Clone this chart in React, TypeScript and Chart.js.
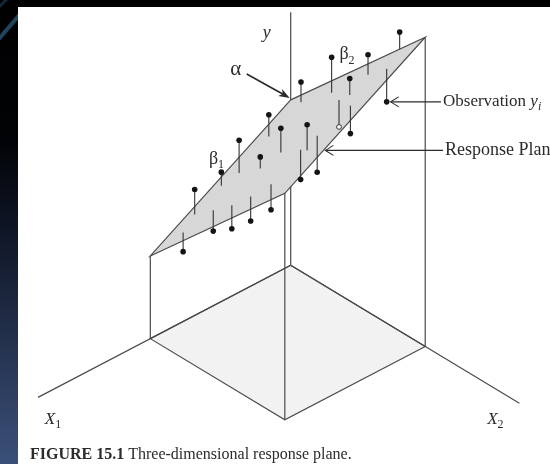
import React, { useEffect, useRef } from "react";
import { Chart, registerables } from "chart.js";

Chart.register(...registerables);

// ---- observations (X1, X2, y) ----
const obsX1 = [0.0, 1.2, 1.3, 0.8, 2.5, 3.7, 1.5, 5.3, 6.4, 5.3, 6.0, 2.9, 5.4, 6.0, 5.9, 7.7, 9.1, 8.2, 8.6, 8.6, 8.3];
const obsX2 = [8.1, 7.0, 4.4, 1.6, 7.0, 8.3, 8.7, 4.8, 7.9, 7.5, 7.0, 1.4, 1.8, 4.0, 1.0, 0.9, 1.5, 2.8, 4.6, 6.0, 7.2];
const obsY = [90.4, 83.5, 76.6, 61.1, 79.2, 68.4, 74.1, 65.0, 76.1, 58.3, 56.4, 55.4, 54.2, 55.9, 43.7, 42.2, 28.0, 35.4, 41.4, 47.2, 52.9];
// observation lying under the plane, drawn hollow
const hiddenX1 = [2.5];
const hiddenX2 = [6.2];
const hiddenY = [62.6];
// observation singled out by the "Observation y_i" callout
const CALLOUT_OBS = 6;

// response plane  y = α + β1·X1 + β2·X2
const ALPHA = 50;
const BETA1 = -2.5;
const BETA2 = 4.35;
const X1_MAX = 10;
const X2_MAX = 10;
// axis lengths
const X1_AXIS_LEN = 18;
const X2_AXIS_LEN = 17;
const Y_AXIS_LEN = 76.5;
// point on the plane's front edge that the "Response Plane" callout points at
const PLANE_CALLOUT_X1 = 7.25;

// canvas and oblique view
const W = 550;
const H = 464;
const VIEW = { ox: 291, oy: 266, x1dx: -14.3, x1dy: 7.5, x2dx: 13.7, x2dy: 8.3, yk: 3.38 };

type P = { x: number; y: number };
const GAP: P = { x: NaN, y: NaN };

const planeAt = (x1: number, x2: number) => ALPHA + BETA1 * x1 + BETA2 * x2;
const proj = (x1: number, x2: number, y: number): P => ({
  x: VIEW.ox + x1 * VIEW.x1dx + x2 * VIEW.x2dx,
  y: VIEW.oy + x1 * VIEW.x1dy + x2 * VIEW.x2dy - y * VIEW.yk,
});
const segments = (pairs: [P, P][]) => pairs.flatMap(([a, b]) => [a, b, GAP]);

const SERIF = '"Liberation Serif", "Times New Roman", "DejaVu Serif", serif';
const INK = "#2b2b2b";
const LINE = "#4a4a4a";

// floor square, axes and vertical risers
const O0 = proj(0, 0, 0);
const floorPoly = [O0, proj(X1_MAX, 0, 0), proj(X1_MAX, X2_MAX, 0), proj(0, X2_MAX, 0), O0];
const axisLines = segments([
  [O0, proj(X1_AXIS_LEN, 0, 0)],
  [O0, proj(0, X2_AXIS_LEN, 0)],
  [O0, proj(0, 0, Y_AXIS_LEN)],
  [proj(X1_MAX, 0, 0), proj(X1_MAX, 0, planeAt(X1_MAX, 0))],
  [proj(X1_MAX, X2_MAX, 0), proj(X1_MAX, X2_MAX, planeAt(X1_MAX, X2_MAX))],
  [proj(0, X2_MAX, 0), proj(0, X2_MAX, planeAt(0, X2_MAX))],
]);
const T0 = proj(0, 0, planeAt(0, 0));
const planePoly = [
  T0,
  proj(X1_MAX, 0, planeAt(X1_MAX, 0)),
  proj(X1_MAX, X2_MAX, planeAt(X1_MAX, X2_MAX)),
  proj(0, X2_MAX, planeAt(0, X2_MAX)),
  T0,
];
const allX1 = obsX1.concat(hiddenX1);
const allX2 = obsX2.concat(hiddenX2);
const allY = obsY.concat(hiddenY);
const stems = segments(
  allX1.map((x1, i) => [proj(x1, allX2[i], planeAt(x1, allX2[i])), proj(x1, allX2[i], allY[i])] as [P, P])
);
const dots = obsX1.map((x1, i) => proj(x1, obsX2[i], obsY[i]));
const hiddenDots = hiddenX1.map((x1, i) => proj(x1, hiddenX2[i], hiddenY[i]));

type Part = { text: string; size: number; style?: string; sub?: boolean };
function rich(ctx: CanvasRenderingContext2D, x: number, y: number, parts: Part[], align: "left" | "center" = "left") {
  const fontOf = (p: Part) => `${p.style ?? ""} ${p.sub ? Math.round(p.size * 0.68) : p.size}px ${SERIF}`;
  const widths = parts.map((p) => {
    ctx.font = fontOf(p);
    return ctx.measureText(p.text).width;
  });
  const total = widths.reduce((a, b) => a + b, 0);
  let cx = align === "center" ? x - total / 2 : x;
  ctx.textAlign = "left";
  ctx.textBaseline = "middle";
  parts.forEach((p, i) => {
    ctx.font = fontOf(p);
    ctx.fillText(p.text, cx, y + (p.sub ? p.size * 0.32 : 0));
    cx += widths[i];
  });
}

function chevron(ctx: CanvasRenderingContext2D, tip: P) {
  ctx.beginPath();
  ctx.moveTo(tip.x + 8, tip.y - 5);
  ctx.lineTo(tip.x, tip.y);
  ctx.lineTo(tip.x + 8, tip.y + 5);
  ctx.stroke();
}

const framePlugin = {
  id: "frame",
  beforeDraw(chart: Chart) {
    const { ctx, width, height } = chart;
    ctx.save();
    ctx.fillStyle = "#ffffff";
    ctx.fillRect(0, 0, width, height);
    const g = ctx.createLinearGradient(0, 0, 0, height);
    g.addColorStop(0, "#000000");
    g.addColorStop(0.3, "#020306");
    g.addColorStop(0.5, "#0f1626");
    g.addColorStop(0.75, "#253350");
    g.addColorStop(1, "#3b5079");
    ctx.fillStyle = g;
    ctx.fillRect(0, 0, 18, height);
    ctx.fillStyle = "#000000";
    ctx.fillRect(0, 0, width, 7);
    ctx.beginPath();
    ctx.rect(0, 0, 18, height);
    ctx.clip();
    ctx.strokeStyle = "rgba(70,150,200,0.45)";
    ctx.lineWidth = 4;
    ctx.beginPath();
    ctx.moveTo(-2, 40);
    ctx.lineTo(22, 12);
    ctx.stroke();
    ctx.strokeStyle = "rgba(40,100,150,0.4)";
    ctx.lineWidth = 3;
    ctx.beginPath();
    ctx.moveTo(-2, 8);
    ctx.lineTo(8, -2);
    ctx.stroke();
    ctx.restore();
  },
};

const labelPlugin = {
  id: "labels",
  afterDatasetsDraw(chart: Chart) {
    const { ctx } = chart;
    const xs = chart.scales.x;
    const ys = chart.scales.y;
    const px = (p: P): P => ({ x: xs.getPixelForValue(p.x), y: ys.getPixelForValue(p.y) });
    ctx.save();
    ctx.fillStyle = INK;
    ctx.strokeStyle = INK;
    ctx.lineWidth = 1.1;

    const T = px(T0);
    const L = px(proj(X1_MAX, 0, planeAt(X1_MAX, 0)));
    const R = px(proj(0, X2_MAX, planeAt(0, X2_MAX)));
    const yTop = px(proj(0, 0, Y_AXIS_LEN));
    const x1End = px(proj(X1_AXIS_LEN, 0, 0));
    const x2End = px(proj(0, X2_AXIS_LEN, 0));

    // axis names
    rich(ctx, yTop.x - 24, yTop.y + 21, [{ text: "y", size: 18, style: "italic" }], "center");
    rich(ctx, x1End.x + 15, x1End.y + 22, [{ text: "X", size: 17, style: "italic" }, { text: "1", size: 17, sub: true }], "center");
    rich(ctx, x2End.x - 24, x2End.y + 16, [{ text: "X", size: 17, style: "italic" }, { text: "2", size: 17, sub: true }], "center");

    // α with its arrow to the intercept
    rich(ctx, T.x - 55, T.y - 30, [{ text: "α", size: 21 }], "center");
    const a0 = { x: T.x - 44, y: T.y - 26 };
    const a1 = { x: T.x - 1, y: T.y - 2 };
    const ang = Math.atan2(a1.y - a0.y, a1.x - a0.x);
    ctx.lineWidth = 1.7;
    ctx.beginPath();
    ctx.moveTo(a0.x, a0.y);
    ctx.lineTo(a1.x - 6 * Math.cos(ang), a1.y - 6 * Math.sin(ang));
    ctx.stroke();
    ctx.beginPath();
    ctx.moveTo(a1.x, a1.y);
    ctx.lineTo(a1.x - 11 * Math.cos(ang) + 4 * Math.sin(ang), a1.y - 11 * Math.sin(ang) - 4 * Math.cos(ang));
    ctx.lineTo(a1.x - 8 * Math.cos(ang), a1.y - 8 * Math.sin(ang));
    ctx.lineTo(a1.x - 11 * Math.cos(ang) - 4 * Math.sin(ang), a1.y - 11 * Math.sin(ang) + 4 * Math.cos(ang));
    ctx.closePath();
    ctx.fill();
    ctx.lineWidth = 1.1;

    // slopes
    const mLT = { x: (L.x + T.x) / 2, y: (L.y + T.y) / 2 };
    const mTR = { x: (T.x + R.x) / 2, y: (T.y + R.y) / 2 };
    rich(ctx, mLT.x - 4, mLT.y - 19, [{ text: "β", size: 18 }, { text: "1", size: 18, sub: true }], "center");
    rich(ctx, mTR.x - 11, mTR.y - 14, [{ text: "β", size: 18 }, { text: "2", size: 18, sub: true }], "center");

    // callouts
    const textX = 443;
    const ob = px(dots[CALLOUT_OBS]);
    ctx.beginPath();
    ctx.moveTo(textX - 2, ob.y);
    ctx.lineTo(ob.x + 4, ob.y);
    ctx.stroke();
    chevron(ctx, { x: ob.x + 4, y: ob.y });
    rich(ctx, textX, ob.y, [
      { text: "Observation ", size: 17 },
      { text: "y", size: 17, style: "italic" },
      { text: "i", size: 17, style: "italic", sub: true },
    ]);

    const e = px(proj(PLANE_CALLOUT_X1, X2_MAX, planeAt(PLANE_CALLOUT_X1, X2_MAX)));
    ctx.beginPath();
    ctx.moveTo(textX, e.y);
    ctx.lineTo(e.x + 2, e.y);
    ctx.stroke();
    chevron(ctx, { x: e.x + 2, y: e.y });
    rich(ctx, textX + 2, e.y, [{ text: "Response Plane", size: 18 }]);

    // caption
    rich(ctx, 30, 455, [
      { text: "FIGURE 15.1 ", size: 16, style: "bold" },
      { text: "Three-dimensional response plane.", size: 16 },
    ]);
    ctx.restore();
  },
};

export default function App() {
  const ref = useRef<HTMLCanvasElement>(null);
  useEffect(() => {
    document.body.style.margin = "0";
    const chart = new Chart(ref.current as HTMLCanvasElement, {
      type: "scatter",
      data: {
        datasets: [
          {
            label: "floor",
            data: floorPoly,
            showLine: true,
            fill: "shape",
            backgroundColor: "#f2f2f2",
            borderColor: LINE,
            borderWidth: 1.2,
            pointRadius: 0,
            order: 10,
          },
          {
            label: "axes",
            data: axisLines,
            showLine: true,
            spanGaps: false,
            borderColor: LINE,
            borderWidth: 1.2,
            pointRadius: 0,
            order: 9,
          },
          {
            label: "plane",
            data: planePoly,
            showLine: true,
            fill: "shape",
            backgroundColor: "#d7d7d7",
            borderColor: LINE,
            borderWidth: 1.2,
            pointRadius: 0,
            order: 8,
          },
          {
            label: "stems",
            data: stems,
            showLine: true,
            spanGaps: false,
            borderColor: "#333333",
            borderWidth: 1.1,
            pointRadius: 0,
            order: 7,
          },
          {
            label: "observations",
            data: dots,
            showLine: false,
            pointRadius: 2.8,
            pointBackgroundColor: "#141414",
            pointBorderColor: "#141414",
            pointBorderWidth: 0,
            order: 6,
          },
          {
            label: "hidden",
            data: hiddenDots,
            showLine: false,
            pointRadius: 2.4,
            pointBackgroundColor: "#ffffff",
            pointBorderColor: "#333333",
            pointBorderWidth: 1,
            order: 5,
          },
        ],
      },
      options: {
        animation: false,
        responsive: false,
        maintainAspectRatio: false,
        events: [],
        layout: { padding: 0 },
        plugins: { legend: { display: false }, tooltip: { enabled: false }, title: { display: false } },
        scales: {
          x: { type: "linear", min: 0, max: W, display: false },
          y: { type: "linear", min: 0, max: H, reverse: true, display: false },
        },
        elements: { line: { tension: 0 } },
      },
      plugins: [framePlugin, labelPlugin],
    } as any);
    return () => chart.destroy();
  }, []);
  return (
    <div style={{ width: W, height: H }}>
      <canvas ref={ref} width={W} height={H} style={{ display: "block" }} />
    </div>
  );
}
